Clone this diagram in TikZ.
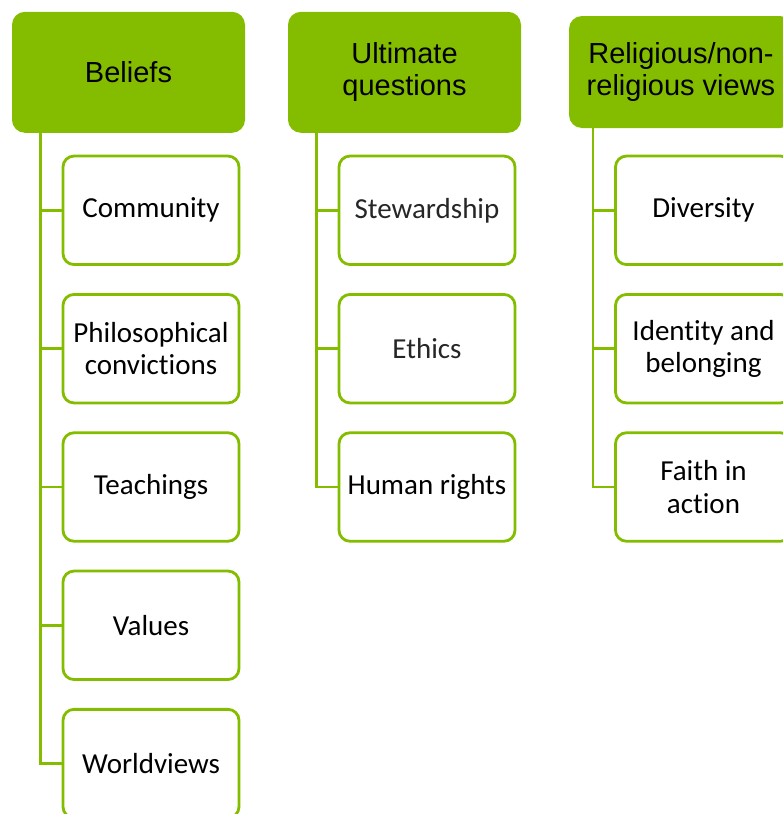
\documentclass[tikz,border=0pt]{standalone}
\usepackage{fontspec}
\setmainfont[Ligatures=NoCommon]{Carlito}
\newfontfamily\hdrfont{Liberation Sans}
\definecolor{lgreen}{RGB}{132,189,0}
\begin{document}
\begin{tikzpicture}[x=1pt,y=-1pt,
  hdr/.style={rectangle, rounded corners=13pt, fill=lgreen, draw=none, align=center,
    font=\hdrfont\fontsize{29}{32}\selectfont, inner sep=0pt},
  child/.style={rectangle, rounded corners=11pt, fill=white, draw=lgreen, line width=2.8pt,
    minimum width=176pt, minimum height=108.5pt, align=center, inner sep=0pt,
    font=\fontsize{29}{32.5}\selectfont},
  lightt/.style={text=black!85},
  conn/.style={draw=lgreen, line width=2.8pt}]
\useasboundingbox (0,0) rectangle (782,814);
% headers
\node[hdr, minimum width=233pt, minimum height=121pt] (h1) at (128.5,72.3) {Beliefs};
\node[hdr, minimum width=233pt, minimum height=121pt] (h2) at (404.5,72.3) {Ultimate\\questions};
\node[hdr, minimum width=224pt, minimum height=112pt] (h3) at (681,72) {Religious/non-\\religious views};
% line coordinates
\coordinate (l1) at (40.7,130);
\coordinate (l2) at (316.5,130);
\coordinate (l3) at (593,125);
% column 1
\node[child] (c11) at (151,210.3) {Community};
\node[child] (c12) at (151,348.7) {Philosophical\\convictions};
\node[child] (c13) at (151,487) {Teachings};
\node[child] (c14) at (151,625.3) {Values};
\node[child] (c15) at (151,763.6) {Worldviews};
% column 2
\node[child, lightt] (c21) at (427,210.3) {Stewardship};
\node[child, lightt] (c22) at (427,348.7) {Ethics};
\node[child] (c23) at (427,487) {Human rights};
% column 3
\node[child] (c31) at (703.5,210.3) {Diversity};
\node[child] (c32) at (703.5,348.7) {Identity and\\belonging};
\node[child] (c33) at (703.5,487) {Faith in\\action};
% connectors
\foreach \c in {c11,c12,c13,c14,c15} \draw[conn] (l1) |- (\c.west);
\foreach \c in {c21,c22,c23} \draw[conn] (l2) |- (\c.west);
\foreach \c in {c31,c32,c33} \draw[conn] (l3) |- (\c.west);
\end{tikzpicture}
\end{document}
